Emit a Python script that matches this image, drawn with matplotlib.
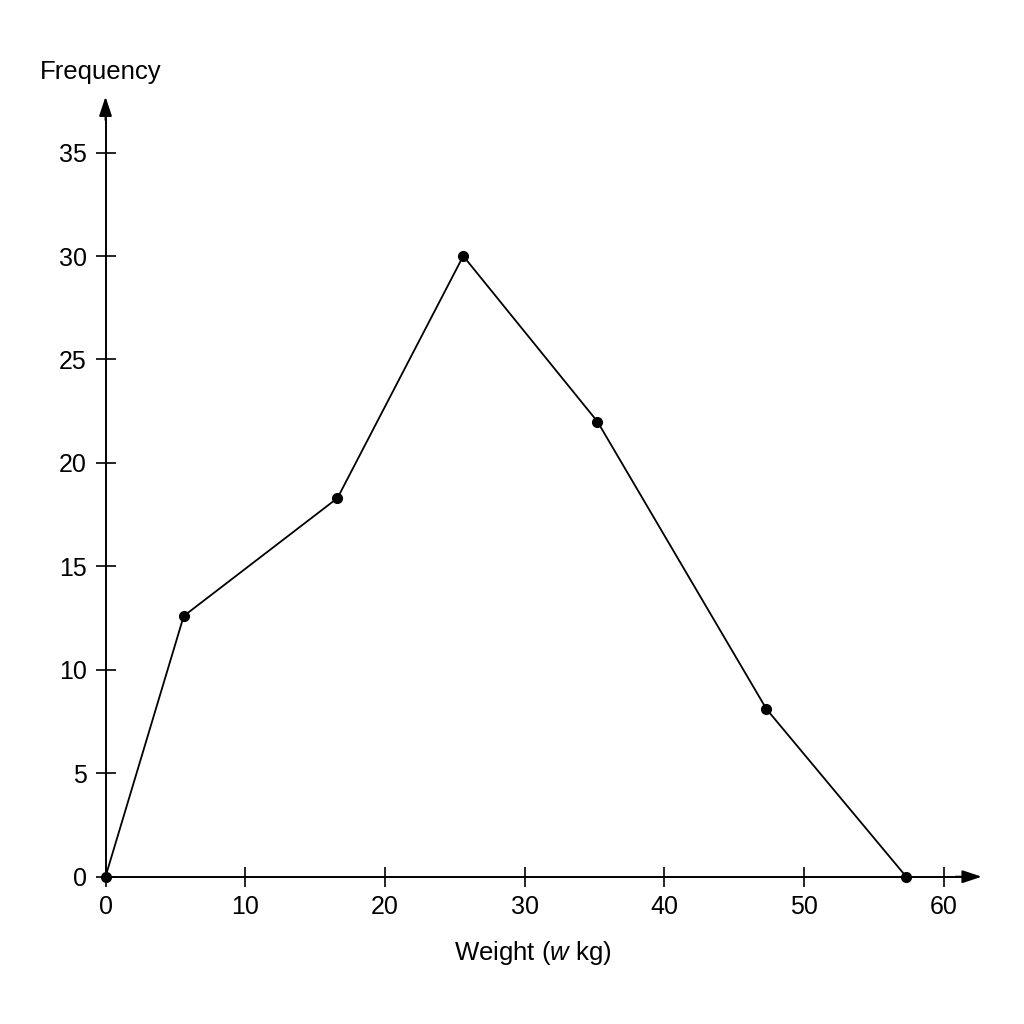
import matplotlib.pyplot as plt

plt.rcParams['font.family'] = ['Liberation Sans', 'DejaVu Sans']
plt.rcParams['mathtext.fontset'] = 'custom'
plt.rcParams['mathtext.it'] = 'Liberation Sans:italic'
plt.rcParams['mathtext.rm'] = 'Liberation Sans'

# данные полигона частот
weight = [0, 5.6, 16.6, 25.6, 35.2, 47.3, 57.3]
freq = [0, 12.6, 18.3, 30.0, 22.0, 8.1, 0]
x_ticks = [0, 10, 20, 30, 40, 50, 60]
y_ticks = [0, 5, 10, 15, 20, 25, 30, 35]

W = H = 1024
fig = plt.figure(figsize=(10.24, 10.24), dpi=100)
ax = fig.add_axes([105.5 / W, (H - 876.7) / H, 876.2 / W, 780.0 / H])

ax.plot(weight, freq, color='black', lw=1.3, marker='o', markersize=7,
        clip_on=False, zorder=3)

ax.set_xlim(0, 62.7)
ax.set_ylim(0, 37.7)
ax.set_xticks(x_ticks)
ax.set_yticks(y_ticks)

for s in ['top', 'right']:
    ax.spines[s].set_visible(False)
for s in ['left', 'bottom']:
    ax.spines[s].set_linewidth(1.4)
    ax.spines[s].set_bounds(0, 37 if s == 'left' else 62)

ax.tick_params(direction='inout', length=15, width=1.2, labelsize=18, pad=6)

# стрелки на концах осей
arrow = dict(arrowstyle='-|>,head_length=0.9,head_width=0.3', lw=1.4,
             color='black', mutation_scale=13, shrinkA=0, shrinkB=0)
ax.annotate('', xy=(1, 0), xytext=(0.97, 0), xycoords='axes fraction', arrowprops=arrow)
ax.annotate('', xy=(0, 1), xytext=(0, 0.97), xycoords='axes fraction', arrowprops=arrow)

fig.text(40 / W, 1 - 72 / H, 'Frequency', fontsize=18.5, ha='left', va='center')
fig.text(533 / W, 1 - 953 / H, r'Weight ($w$ kg)', fontsize=18.5, ha='center', va='center')

plt.savefig('out.png', dpi=100, facecolor='white')
